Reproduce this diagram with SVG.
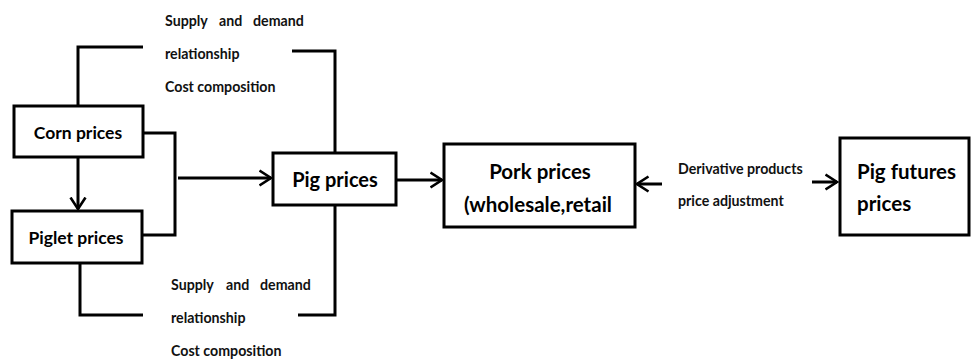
<svg xmlns="http://www.w3.org/2000/svg" width="971" height="359" viewBox="0 0 971 359">
<style>
.box{fill:#fff;stroke:#000;stroke-width:3}
.ln{fill:none;stroke:#000;stroke-width:3}
.t{font-family:Lato,"Liberation Sans",sans-serif;font-weight:bold;fill:#000}
.s{font-family:Lato,"Liberation Sans",sans-serif;font-weight:bold;font-size:14.2px;fill:#111}
</style>
<defs>
<marker id="ah" markerUnits="userSpaceOnUse" viewBox="0 0 14 18" markerWidth="14" markerHeight="18" refX="12.5" refY="9" orient="auto">
<path d="M1,1.5 L12.5,9 L1,16.5" fill="none" stroke="#000" stroke-width="2.6"/>
</marker>
</defs>
<rect width="971" height="359" fill="#fff"/>
<g id="connectors">
<polyline class="ln" points="78,106 78,47 143,47"/>
<polyline class="ln" points="292,51 335,51 335,153"/>
<polyline class="ln" points="142,133 175,133 175,235 142,235"/>
<line class="ln" x1="178" y1="178" x2="271" y2="178" marker-end="url(#ah)"/>
<line class="ln" x1="78" y1="157" x2="78" y2="209" marker-end="url(#ah)"/>
<polyline class="ln" points="80,263 80,315 143,315"/>
<polyline class="ln" points="298,315 335,315 335,205"/>
<line class="ln" x1="396" y1="180" x2="442" y2="180" marker-end="url(#ah)"/>
<line class="ln" x1="662" y1="184" x2="637" y2="184" marker-end="url(#ah)"/>
<line class="ln" x1="812" y1="182" x2="837" y2="182" marker-end="url(#ah)"/>
</g>
<g id="label-top">
<text class="s" y="26"><tspan x="165">Supply</tspan><tspan x="219">and</tspan><tspan x="253">demand</tspan></text>
<text class="s" x="165" y="59">relationship</text>
<text class="s" x="165" y="92">Cost composition</text>
</g>
<g id="label-bottom">
<text class="s" y="290"><tspan x="171">Supply</tspan><tspan x="226">and</tspan><tspan x="260">demand</tspan></text>
<text class="s" x="171" y="323">relationship</text>
<text class="s" x="171" y="356">Cost composition</text>
</g>
<g id="label-derivative">
<text class="s" x="678" y="174">Derivative products</text>
<text class="s" x="678" y="206">price adjustment</text>
</g>
<g id="corn">
<rect class="box" x="14" y="106" width="129" height="51"/>
<text class="t" x="78" y="139" font-size="17.5" text-anchor="middle">Corn prices</text>
</g>
<g id="piglet">
<rect class="box" x="12" y="211" width="130" height="52"/>
<text class="t" x="76" y="244" font-size="17.5" text-anchor="middle">Piglet prices</text>
</g>
<g id="pig">
<rect class="box" x="273" y="153" width="123" height="52"/>
<text class="t" x="335" y="187" font-size="20" text-anchor="middle">Pig prices</text>
</g>
<g id="pork">
<rect class="box" x="444" y="144" width="191" height="83"/>
<text class="t" x="540" y="179" font-size="20.5" text-anchor="middle">Pork prices</text>
<text class="t" x="538" y="212" font-size="20.5" text-anchor="middle">(wholesale,retail</text>
</g>
<g id="futures">
<rect class="box" x="840" y="138" width="129" height="97"/>
<text class="t" x="857" y="179" font-size="20.5">Pig futures</text>
<text class="t" x="857" y="211" font-size="20.5">prices</text>
</g>
</svg>
